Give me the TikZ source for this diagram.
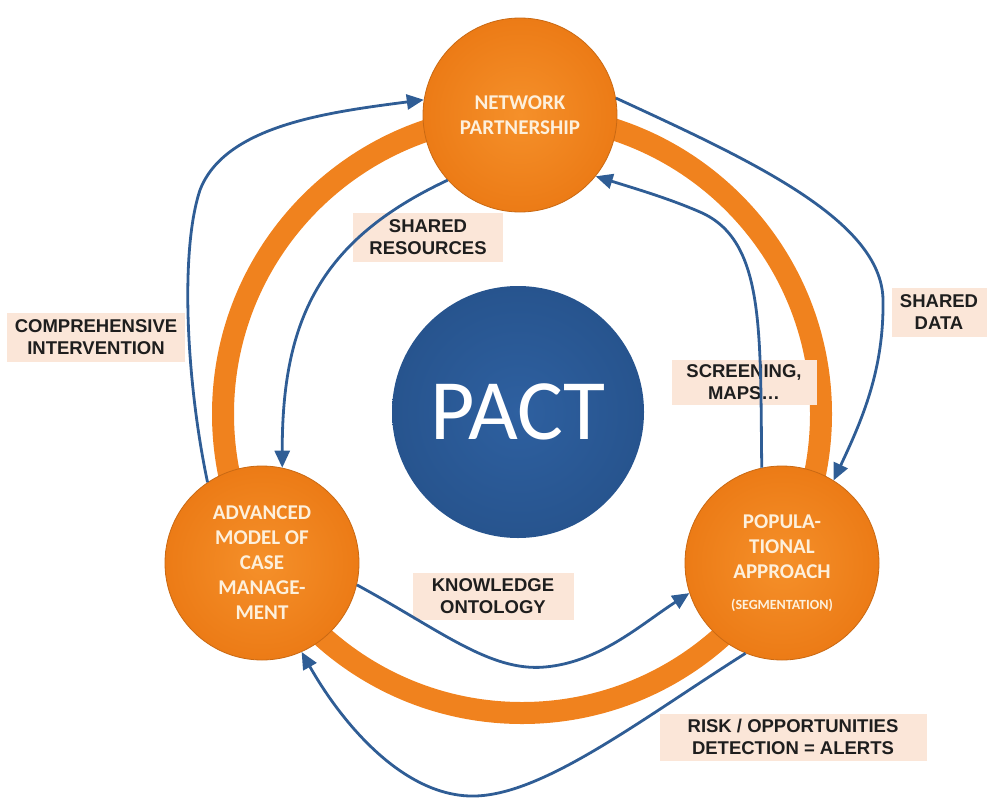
\documentclass[tikz,border=0pt]{standalone}
\usepackage{fontspec}
\setmainfont{Liberation Sans}
\newfontfamily\calib{Carlito}
\usetikzlibrary{arrows.meta}
\definecolor{ringor}{HTML}{F0821E}
\definecolor{orin}{HTML}{F5902A}
\definecolor{orout}{HTML}{EC7B16}
\definecolor{pactin}{HTML}{2E60A0}
\definecolor{pactout}{HTML}{27548E}
\definecolor{arrblue}{HTML}{2F5D95}
\definecolor{lblfill}{HTML}{FBE6D8}
\definecolor{lbltext}{HTML}{1E1E1E}
\definecolor{cream}{HTML}{FDF0DC}
\tikzset{
  orcircle/.style={circle, minimum size=194pt, inner sep=0pt, draw=orout!85!black, line width=0.8pt,
    inner color=orin, outer color=orout, text=cream, align=center,
    font=\calib\bfseries\fontsize{21}{25}\selectfont},
  lbl/.style={fill=lblfill, text=lbltext, align=center, inner sep=0pt,
    font=\bfseries\fontsize{18.5}{21.5}\selectfont},
  flow/.style={draw=arrblue, line width=2.8pt, -{Triangle[length=17pt,width=15pt]}},
}
\begin{document}
\begin{tikzpicture}[x=1pt,y=-1pt]
\useasboundingbox (0,0) rectangle (990,798);
% ring
\coordinate (rc0) at (522,414);
\draw[ringor, line width=22pt] (rc0) circle[radius=299pt];
% central circle
\node[circle, minimum size=252pt, inner sep=0pt, inner color=pactin, outer color=pactout,
  text=white, font=\calib\fontsize{86}{90}\selectfont] (pact) at (518,412) {PACT};
% orange circles
\node[orcircle] (np) at (520,115) {NETWORK\\PARTNERSHIP};
\node[orcircle] (lm) at (262,563) {ADVANCED\\MODEL OF\\CASE\\MANAGE-\\MENT};
\node[orcircle] (rc) at (782,563) {POPULA-\\TIONAL\\APPROACH\\[6pt]{\fontsize{14}{16}\selectfont(SEGMENTATION)}};
% labels
\node[lbl, minimum width=150pt, minimum height=49pt] (lres) at (428,237) {SHARED\\RESOURCES};
\node[lbl, minimum width=178pt, minimum height=49pt] (lcomp) at (96,337) {COMPREHENSIVE\\INTERVENTION};
\node[lbl, minimum width=145pt, minimum height=45pt] (lscr) at (744,382) {SCREENING,\\MAPS\dots};
\node[lbl, minimum width=161pt, minimum height=47pt] (lkno) at (493,596) {KNOWLEDGE\\ONTOLOGY};
\node[lbl, minimum width=267pt, minimum height=47pt] (lrisk) at (793,737) {RISK / OPPORTUNITIES\\DETECTION = ALERTS};
\node[lbl, minimum width=95pt, minimum height=49pt] (ldata) at (939,312) {SHARED\\DATA};
% arrows
\draw[flow] (lm.124) .. controls (186,380) and (180,250) .. (200,190) .. controls (225,125) and (330,112) .. (np.171);
\draw[flow] (np.222) .. controls (320,240) and (282,320) .. (lm.78);
\draw[flow] (np.10) .. controls (750,160) and (882,220) .. (883,300) .. controls (884,370) and (862,420) .. (rc.58);
\draw[flow] (rc.102) .. controls (760,330) and (765,240) .. (700,212) .. controls (670,199) and (640,190) .. (np.321);
\draw[flow] (lm.347) .. controls (440,630) and (490,672) .. (545,667) .. controls (600,662) and (640,625) .. (rc.198);
\draw[flow] (rc.248) .. controls (640,720) and (540,798) .. (470,796) .. controls (400,794) and (340,720) .. (lm.294);
\end{tikzpicture}
\end{document}
